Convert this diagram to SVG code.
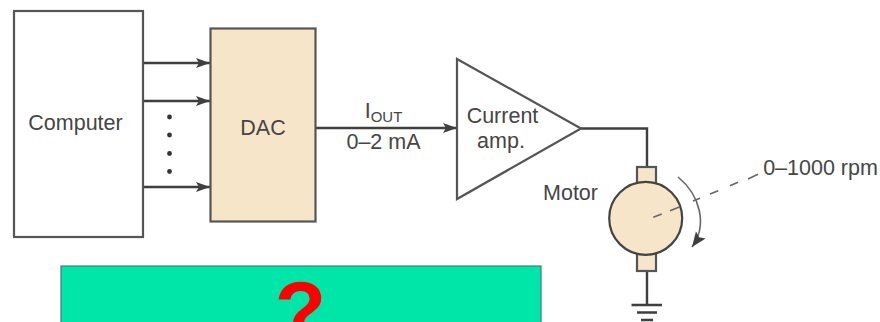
<svg xmlns="http://www.w3.org/2000/svg" width="880" height="322" viewBox="0 0 880 322">
<style>
text{font-family:"Liberation Sans",Arial,sans-serif;font-size:21.500px;fill:#454545}
.box{stroke:#555;stroke-width:2.200}
.fill{fill:#f7e5ca}
.wire{fill:none;stroke:#3f3f3f;stroke-width:2.400}
.thin{fill:none;stroke:#666;stroke-width:1.600}
.dash{fill:none;stroke:#666;stroke-width:1.500}
</style>
<defs>
<marker id="arr" markerUnits="userSpaceOnUse" markerWidth="16" markerHeight="12" refX="14" refY="5" orient="auto"><path d="M0 0L14 5L0 10L3 5Z" fill="#3f3f3f"/></marker>
<marker id="arr2" markerUnits="userSpaceOnUse" markerWidth="18" markerHeight="14" refX="15" refY="6" orient="auto"><path d="M0 0L15 6L0 12L3 6Z" fill="#3f3f3f"/></marker>
</defs>
<rect width="880" height="322" fill="#fff"/>
<g id="connectors">
<path class="wire" marker-end="url(#arr)" d="M143 63H210"/>
<path class="wire" marker-end="url(#arr)" d="M143 101H210"/>
<path class="wire" marker-end="url(#arr)" d="M143 187H210"/>
<path class="wire" marker-end="url(#arr)" d="M316 128H457"/>
<path class="wire" d="M581 128.500H647V167"/>
<path class="wire" d="M647 271V305"/>
<path class="wire" d="M631.500 305H662M637 312.500H657M641 320H653"/>
<path class="dash" d="M693 201L700 198.300M710 194L718.300 190.700M730 185.700L738 182.300M748 179L758 174.300"/>
<path class="thin" marker-end="url(#arr2)" d="M678 177C700 195 708 225 692 247"/>
</g>
<g id="computer"><rect class="box" x="14" y="11" width="129" height="226" fill="#fff"/><text x="75.500" y="130" text-anchor="middle">Computer</text></g>
<g id="dots" fill="#333"><circle cx="169.500" cy="117" r="2.400"/><circle cx="169.500" cy="135" r="2.400"/><circle cx="169.500" cy="153.500" r="2.400"/><circle cx="169.500" cy="171.500" r="2.400"/></g>
<g id="dac"><rect class="box fill" x="210.500" y="28.500" width="105" height="193"/><text x="263" y="135" text-anchor="middle">DAC</text></g>
<g id="iout-label"><text x="383.500" y="118" text-anchor="middle">I<tspan font-size="15" dy="4">OUT</tspan></text><text x="383.500" y="149" text-anchor="middle">0–2 mA</text></g>
<g id="amp"><path d="M457 59L581 128.500L457 199Z" fill="#fff" stroke="#555" stroke-width="2.200"/><text x="502.500" y="123" text-anchor="middle">Current</text><text x="501" y="148" text-anchor="middle">amp.</text></g>
<g id="motor">
<rect class="box fill" x="637" y="167" width="19" height="17"/>
<rect class="box fill" x="637" y="253" width="19" height="18"/>
<circle class="fill" cx="645.700" cy="218.300" r="36.500" stroke="#444" stroke-width="2.200"/>
<path class="dash" d="M653.300 217.300L661.700 214M670 210.700L680 206.700"/>
<text x="570.500" y="200" text-anchor="middle">Motor</text>
</g>
<g id="rpm-label"><text x="820.500" y="175" text-anchor="middle">0–1000 rpm</text></g>
<g id="answer"><rect x="61" y="266" width="480" height="70" fill="#00e6a8" stroke="#3f7f70" stroke-width="1.200"/><text x="300.500" y="340" text-anchor="middle" style="font-size:84px;font-weight:bold;fill:#f00">?</text></g>
</svg>
